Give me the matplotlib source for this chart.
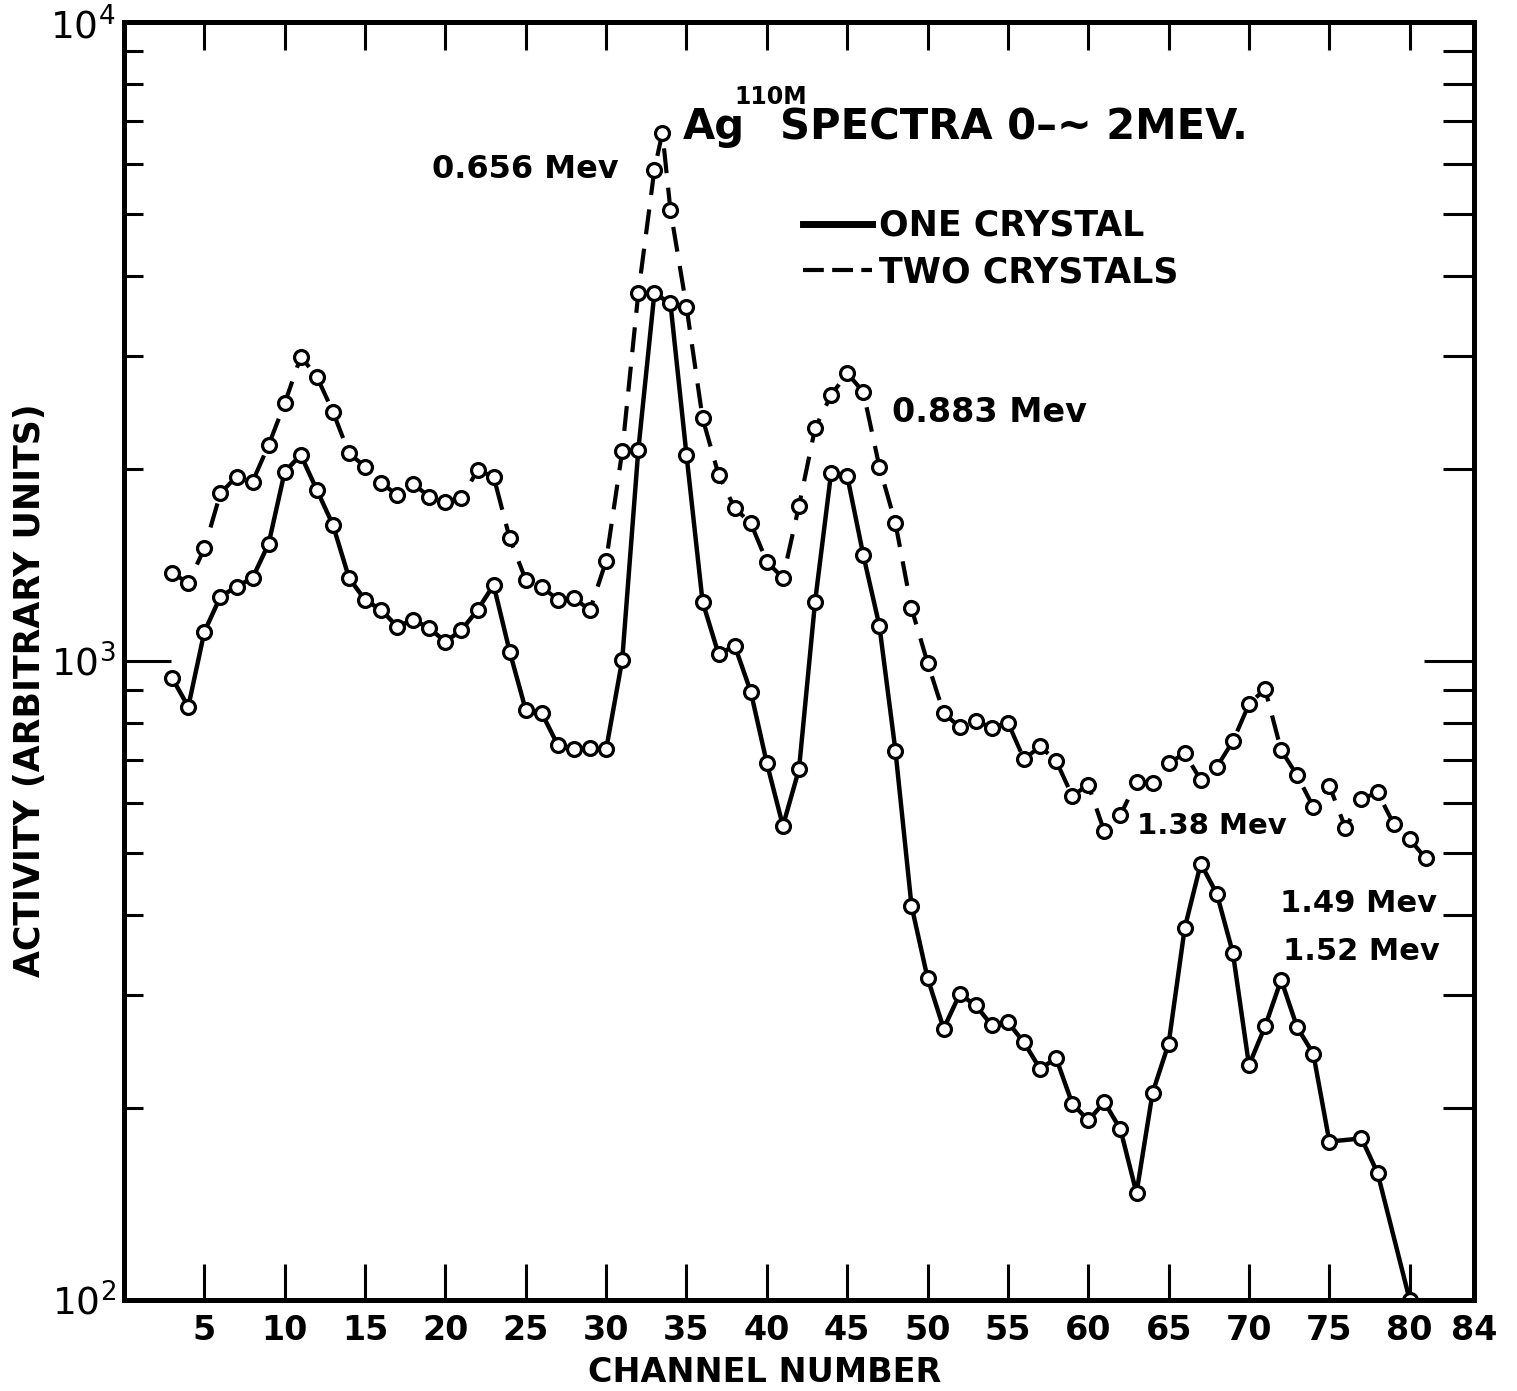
import numpy as np
import matplotlib.pyplot as plt
from matplotlib.lines import Line2D
from matplotlib.ticker import LogLocator, NullFormatter

W, H = 1517, 1391

# one crystal: channel number / activity
ch_one = list(range(3, 76)) + [77, 78, 80]
act_one = [940, 848, 1111, 1261, 1307, 1349, 1526, 1978, 2101, 1852,
           1633, 1349, 1246, 1202, 1132, 1160, 1125, 1072, 1118, 1202,
           1315, 1034, 838, 828, 738, 727, 730, 727, 1004, 2138,
           3761, 3630, 2101, 1238, 1024, 1057, 895, 692, 552, 677,
           1238, 1971, 1948, 1465, 1136, 724, 414, 319, 266, 301,
           289, 269, 272, 253, 230, 239, 203, 191, 204, 185,
           147, 211, 252, 382, 482, 432, 349, 233, 268, 317,
           267, 243, 177, 179, 158, 100]

# two crystals
ch_two = list(range(3, 34)) + [33.5] + list(range(34, 82))
act_two = [1374, 1324, 1500, 1830, 1944, 1909, 2178, 2531, 2994, 2786,
           2455, 2113, 2015, 1901, 1818, 1892, 1808, 1776, 1797, 1990,
           1943, 1556, 1339, 1307, 1246, 1253, 1202, 1435, 2130, 3761,
           5869, 6712, 5079, 3584, 2398, 1955, 1734, 1643, 1430, 1349,
           1750, 2313, 2607, 2820, 2638, 2014, 1643, 1209, 994, 829,
           788, 807, 786, 801, 702, 735, 698, 615, 640, 541,
           574, 647, 645, 692, 717, 651, 683, 749, 856, 904,
           725, 662, 591, 638, 548, 608, 623, 556, 526, 491]

xticks = [5, 10, 15, 20, 25, 30, 35, 40, 45, 50, 55, 60, 65, 70, 75, 80, 84]
yticks = [100, 1000, 10000]
ylabels = [r'$10^{2}$', r'$10^{3}$', r'$10^{4}$']

fig = plt.figure(figsize=(W / 100, H / 100), dpi=100)
ax = fig.add_axes([124 / W, 1 - 1300 / H, 1350 / W, 1278 / H])


def fp(x, y):
    # pixel position in the figure -> figure fraction
    return x / W, 1 - y / H


mk = dict(marker='o', ms=10, mfc='white', mec='k', mew=2.3)
ax.plot(ch_two, act_two, color='k', lw=3, dashes=(6, 3.5), **mk)
ax.plot(ch_one, act_one, color='k', lw=3.2, **mk)

ax.set_yscale('log')
ax.set_xlim(0, 84)
ax.set_ylim(100, 10000)

ax.set_xticks(xticks)
ax.set_xticklabels([str(t) for t in xticks], fontweight='bold')
ax.set_yticks(yticks)
ax.set_yticklabels(ylabels)
ax.yaxis.set_minor_locator(LogLocator(base=10, subs=np.arange(2, 10)))
ax.yaxis.set_minor_formatter(NullFormatter())

ax.tick_params(axis='x', which='major', direction='in', top=False, bottom=True,
               length=26, width=2.2, labelsize=24, pad=10)
ax.tick_params(axis='y', which='major', direction='in', left=True, right=False,
               length=34, width=2.2, labelsize=27, pad=6)
ax.tick_params(axis='y', which='minor', direction='in', left=True, right=False,
               length=14, width=2.2)

# top and right ticks are drawn a bit longer/shorter in the original
top = ax.secondary_xaxis('top')
top.set_xticks(xticks[:-1])
top.tick_params(direction='in', length=20, width=2.2, labeltop=False)
right = ax.secondary_yaxis('right')
right.set_yticks(yticks)
right.yaxis.set_minor_locator(LogLocator(base=10, subs=np.arange(2, 10)))
right.tick_params(which='major', direction='in', length=36, width=2.2, labelright=False)
right.tick_params(which='minor', direction='in', length=22, width=2.2, labelright=False)
for a in (ax, top, right):
    for s in a.spines.values():
        s.set_linewidth(3.6)

# legend
handles = [Line2D([], [], color='k', lw=5),
           Line2D([], [], color='k', lw=3, dashes=(5, 2))]
ax.legend(handles, ['ONE CRYSTAL', 'TWO CRYSTALS'], loc='upper left',
          bbox_to_anchor=fp(803, 209), bbox_transform=fig.transFigure,
          frameon=False, prop={'size': 25, 'weight': 'bold'},
          handlelength=2.0, handletextpad=0.2,
          labelspacing=0.35, borderpad=0, borderaxespad=0)

# title
fig.text(*fp(683, 127), 'Ag', fontsize=30, fontweight='bold', ha='left', va='center')
fig.text(*fp(734, 97), '110M', fontsize=17, fontweight='bold', ha='left', va='center')
fig.text(*fp(780, 127), 'SPECTRA 0\u2013~ 2MEV.', fontsize=30, fontweight='bold',
         ha='left', va='center')

# peak labels
peak_kw = dict(fontweight='bold', ha='left', va='center')
fig.text(*fp(432, 170), '0.656 Mev', fontsize=23, **peak_kw)
fig.text(*fp(892, 412), '0.883 Mev', fontsize=24, **peak_kw)
fig.text(*fp(1137, 826), '1.38 Mev', fontsize=21, **peak_kw)
fig.text(*fp(1280, 903), '1.49 Mev', fontsize=22, **peak_kw)
fig.text(*fp(1283, 952), '1.52 Mev', fontsize=22, **peak_kw)

fig.text(*fp(30, 690), 'ACTIVITY (ARBITRARY UNITS)', fontsize=25, fontweight='bold',
         rotation=90, ha='center', va='center')
fig.text(*fp(765, 1372), 'CHANNEL NUMBER', fontsize=24, fontweight='bold',
         ha='center', va='center')

fig.savefig('out.png', dpi=100, facecolor='white')
